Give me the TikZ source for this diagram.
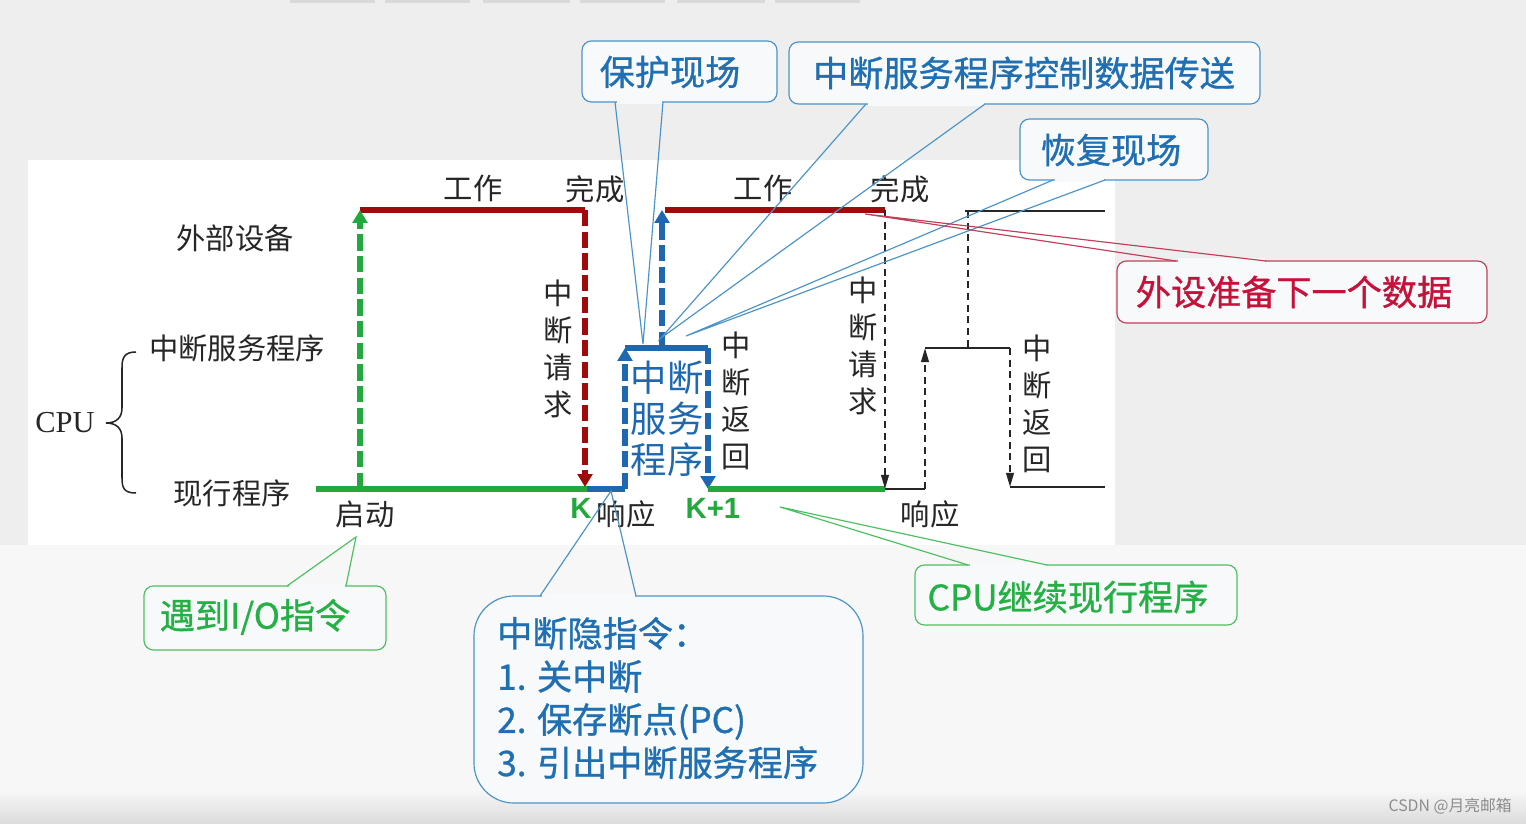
\documentclass[tikz,border=0pt]{standalone}
\usepackage{fontspec}
\setmainfont{Noto Sans CJK SC}
\newfontfamily\cjkm{Noto Sans CJK SC}[FakeBold=0.9]
\newfontfamily\serifl{Liberation Serif}
\newfontfamily\sansl{Liberation Sans}
\usetikzlibrary{arrows.meta,calc}
\definecolor{bgtop}{HTML}{EEEEEE}
\definecolor{lowbg}{HTML}{F7F7F7}
\definecolor{boxfill}{HTML}{F8F9FA}
\definecolor{dred}{HTML}{A00A0A}
\definecolor{grn}{HTML}{22A83C}
\definecolor{blu}{HTML}{1E68B0}
\definecolor{cblue}{HTML}{4A94C8}
\definecolor{ctblue}{HTML}{1F6FB2}
\definecolor{cred}{HTML}{C0405A}
\definecolor{ctred}{HTML}{C4123A}
\definecolor{cgreen}{HTML}{4CC060}
\definecolor{ctgreen}{HTML}{25B045}
\definecolor{lbltext}{HTML}{262626}
\newcommand\mywedge[4]{%
  \fill[boxfill] ($(#2)+(1.5,-2.5)$) rectangle ($(#3)+(-1.5,2.5)$);
  \draw[#1, line width=1pt] (#2) -- (#4) -- (#3);}
\begin{document}
\begin{tikzpicture}[x=0.03cm,y=-0.03cm,
  lbl/.style={font=\fontsize{25}{30}\selectfont, text=lbltext, inner sep=0},
  vlbl/.style={font=\fontsize{25}{31.5}\selectfont, text=lbltext, inner sep=0, align=center},
  thickred/.style={dred, line width=4.3pt},
  thickgrn/.style={grn, line width=4.3pt},
  thickblu/.style={blu, line width=4.3pt},
  thin/.style={black!85, line width=1.7pt},
  bigdash/.style={dash pattern=on 14pt off 4.5pt},
  smalldash/.style={dash pattern=on 6pt off 4pt},
  bigtip/.style={-{Triangle[length=11pt,width=12.5pt]}},
  smalltip/.style={-{Triangle[length=12pt,width=6.5pt]}},
  callbox/.style={draw, fill=boxfill, line width=1pt, rounded corners=8pt, inner sep=0},
  calltext/.style={font=\cjkm\fontsize{30}{36}\selectfont, inner sep=0},
]
% backgrounds
\useasboundingbox (0,0) rectangle (1526,824);
\fill[bgtop] (0,0) rectangle (1526,824);
\fill[lowbg] (0,545) rectangle (1526,790);
\shade[top color=lowbg, bottom color=black!14] (0,790) rectangle (1526,824);
\fill[white] (28,160) rectangle (1115,545);
\foreach \a/\b in {290/375,385/470,483/570,580/665,677/765,775/860}
  \fill[black!15] (\a,0) rectangle (\b,3);

% coordinates of the waveform
\coordinate (g0) at (316,489);
\coordinate (gK) at (587,489);
\coordinate (bL) at (625,489);
\coordinate (bLt) at (625,348);
\coordinate (bRt) at (708,348);
\coordinate (bR) at (708,489);
\coordinate (gE) at (885,489);
\coordinate (r1a) at (360,210);
\coordinate (r1b) at (585,210);
\coordinate (s1) at (360,489);
\coordinate (rq1) at (585,487);
\coordinate (r2a) at (665,210);
\coordinate (r2b) at (885,210);
\coordinate (bu) at (662,348);
\coordinate (bu2) at (662,210);
\coordinate (kr) at (925,489);
\coordinate (kt1) at (925,348);
\coordinate (kt2) at (1010,348);
\coordinate (kb2) at (1010,487);
\coordinate (ke) at (1105,487);
\coordinate (rt1) at (965,211);
\coordinate (rt2) at (1105,211);
\coordinate (rd1) at (968,211);
\coordinate (rd2) at (968,348);

% waveform
\draw[thickgrn] (g0) -- (gK);
\draw[thickblu] (gK) -- (bL);
\draw[thickblu, bigdash, bigtip] (bL) -- (bLt);
\draw[thickblu] (bLt) -- (bRt);
\draw[thickblu, bigdash, bigtip] (bRt) -- (bR);
\draw[thickgrn] (bR) -- (gE);
\draw[thickred] (r1a) -- (r1b);
\draw[thickred, bigdash, bigtip] (r1b) -- (rq1);
\draw[thickgrn, bigdash, bigtip] (s1) -- (r1a);
\draw[thickred] (r2a) -- (r2b);
\draw[thickblu, bigdash, bigtip] (bu) -- (bu2);
\draw[thin, smalldash, smalltip] (r2b) -- (gE);
\draw[thin] (gE) -- (kr);
\draw[thin, smalldash, smalltip] (kr) -- (kt1);
\draw[thin] (kt1) -- (kt2);
\draw[thin, smalldash, smalltip] (kt2) -- (kb2);
\draw[thin] (kb2) -- (ke);
\draw[thin] (rt1) -- (rt2);
\draw[thin, smalldash] (rd1) -- (rd2);

% brace
\draw[black!85, line width=1.3pt] (136,352) .. controls (124,352) and (122,358) .. (122,368) -- (122,408) .. controls (122,418) and (116,423) .. (106,423) .. controls (116,423) and (122,428) .. (122,438) -- (122,478) .. controls (122,488) and (124,493) .. (136,493);

% labels
\node[lbl] (dev) at (235,238) {外部设备};
\node[lbl] (isr) at (237,348) {中断服务程序};
\node[lbl] (cur) at (232,493) {现行程序};
\node[font=\serifl\fontsize{26}{30}\selectfont, text=lbltext, inner sep=0] (cpu) at (65,423) {CPU};
\node[lbl] (w1) at (473,188) {工作};
\node[lbl] (c1) at (595,189) {完成};
\node[lbl] (w2) at (763,188) {工作};
\node[lbl] (c2) at (900,189) {完成};
\node[vlbl] (irq1) at (558,349) {中\\断\\请\\求};
\node[vlbl] (ret1) at (736,401) {中\\断\\返\\回};
\node[vlbl] (irq2) at (863,346) {中\\断\\请\\求};
\node[vlbl] (ret2) at (1037,404) {中\\断\\返\\回};
\node[font=\fontsize{31}{35}\selectfont, text=blu, inner sep=0, align=center] (isrbox) at (667,419) {中断\\服务\\程序};
\node[lbl] (qd) at (365,514) {启动};
\node[lbl] (xy1) at (626,514) {响应};
\node[lbl] (xy2) at (930,514) {响应};
\node[font=\sansl\bfseries\fontsize{25}{30}\selectfont, text=grn, inner sep=0] (k) at (581,508) {K};
\node[font=\sansl\bfseries\fontsize{25}{30}\selectfont, text=grn, inner sep=0] (k1) at (713,508) {K+1};

% callout boxes
\node[callbox, draw=cblue, minimum width=5.85cm, minimum height=1.83cm] (pbox) at (679.5,71.5) {};
\node[calltext, text=ctblue] (ptxt) at (670,72) {保护现场};
\node[callbox, draw=cblue, minimum width=14.13cm, minimum height=1.86cm] (cbox) at (1024.5,73) {};
\node[calltext, text=ctblue] (ctxt) at (1024,73) {中断服务程序控制数据传送};
\node[callbox, draw=cblue, minimum width=5.64cm, minimum height=1.83cm] (hbox) at (1114,149.5) {};
\node[calltext, text=ctblue] (htxt) at (1111,150) {恢复现场};
\node[callbox, draw=cred, minimum width=11.1cm, minimum height=1.86cm] (wbox) at (1302,292) {};
\node[calltext, text=ctred] (wtxt) at (1294,292) {外设准备下一个数据};
\node[callbox, draw=cgreen, minimum width=7.26cm, minimum height=1.92cm] (ybox) at (265,618) {};
\node[calltext, text=ctgreen] (ytxt) at (255,617) {遇到I/O指令};
\node[callbox, draw=cblue, rounded corners=34pt, minimum width=11.67cm, minimum height=6.21cm] (ibox) at (668.5,699.5) {};
\node[font=\cjkm\fontsize{30}{36.8}\selectfont, text=ctblue, inner sep=0, align=left, anchor=west] (itxt) at (497,698) {中断隐指令：\\1. 关中断\\2. 保存断点(PC)\\3. 引出中断服务程序};
\node[callbox, draw=cgreen, minimum width=9.66cm, minimum height=1.8cm] (gbox) at (1076,595) {};
\node[calltext, text=ctgreen] (gtxt) at (1068,597) {CPU继续现行程序};

% wedges
\coordinate (pb1) at (615,102); \coordinate (pb2) at (663,102); \coordinate (pt) at (643,344);
\coordinate (cb1) at (866,104); \coordinate (cb2) at (985,104); \coordinate (ct) at (661,338);
\coordinate (hb1) at (1053,180); \coordinate (hb2) at (1105,180); \coordinate (ht) at (686,336);
\coordinate (wb1) at (1176,261); \coordinate (wb2) at (1266,261); \coordinate (wt) at (865,214);
\coordinate (yb1) at (287,586); \coordinate (yb2) at (346,586); \coordinate (yt) at (356,537);
\coordinate (ib1) at (540,596); \coordinate (ib2) at (636,596); \coordinate (it) at (611,491);
\coordinate (gb1) at (968,565); \coordinate (gb2) at (1047,565); \coordinate (gt) at (780,507);
\mywedge{cblue}{pb1}{pb2}{pt}
\mywedge{cblue}{cb1}{cb2}{ct}
\mywedge{cblue}{hb1}{hb2}{ht}
\mywedge{cred}{wb1}{wb2}{wt}
\mywedge{cgreen}{yb1}{yb2}{yt}
\mywedge{cblue}{ib1}{ib2}{it}
\mywedge{cgreen}{gb1}{gb2}{gt}

% watermark
\node[font=\fontsize{13.5}{16}\selectfont, text=black!45, inner sep=0, anchor=east] (wm) at (1512,806) {CSDN @月亮邮箱};
\end{tikzpicture}
\end{document}
